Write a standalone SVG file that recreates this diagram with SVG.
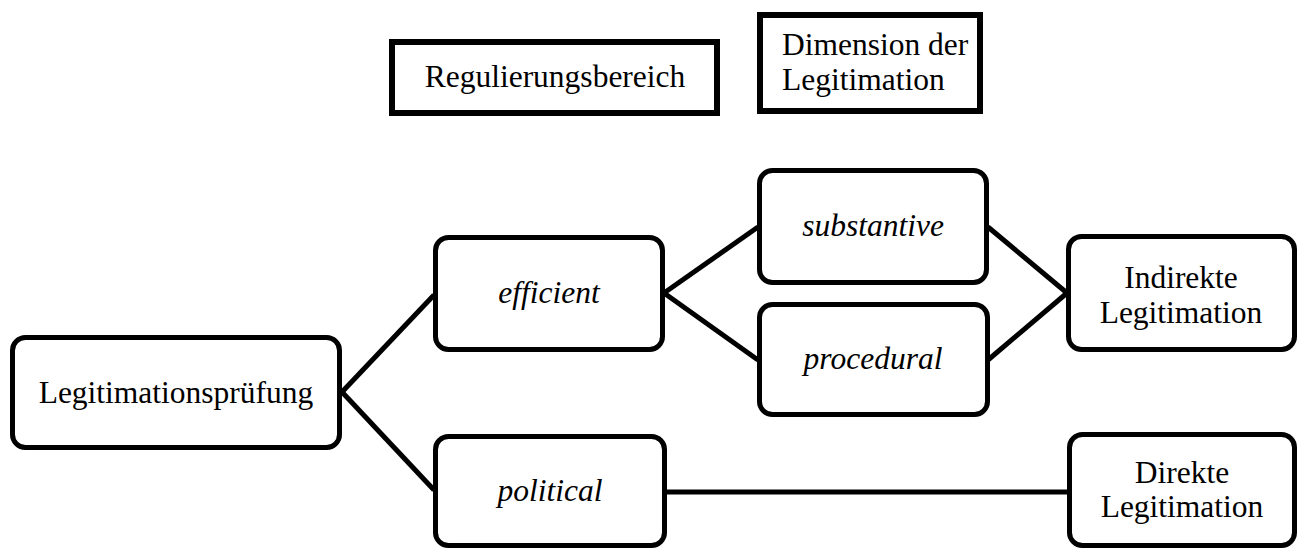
<svg xmlns="http://www.w3.org/2000/svg" width="1298" height="548" viewBox="0 0 1298 548">
<style>
.leg{fill:#fff;stroke:#000;stroke-width:6}
.node{fill:#fff;stroke:#000;stroke-width:5}
.t{font-family:"Liberation Serif","Times New Roman",serif;font-size:31.5px;fill:#000;text-anchor:middle}
.i{font-style:italic}
.l{text-anchor:start}
.c{stroke:#000;stroke-width:5;fill:none}
</style>
<rect width="1298" height="548" fill="#fff"/>
<g id="connectors">
<line class="c" x1="342" y1="392" x2="434" y2="295"/>
<line class="c" x1="342" y1="392" x2="434" y2="490"/>
<line class="c" x1="664" y1="293" x2="758" y2="227"/>
<line class="c" x1="664" y1="293" x2="758" y2="360"/>
<line class="c" x1="988" y1="227" x2="1067" y2="293"/>
<line class="c" x1="988" y1="360" x2="1067" y2="293"/>
<line class="c" x1="666" y1="492" x2="1068" y2="492"/>
</g>
<g id="legend-regulierungsbereich">
<rect class="leg" x="392" y="42" width="325" height="71"/>
<text class="t" x="555" y="87">Regulierungsbereich</text>
</g>
<g id="legend-dimension">
<rect class="leg" x="760" y="15" width="220" height="96"/>
<text class="t l" x="782" y="55">Dimension der</text>
<text class="t l" x="782" y="90">Legitimation</text>
</g>
<g id="node-legitimationspruefung">
<rect class="node" x="12.5" y="337.5" width="327" height="110" rx="13"/>
<text class="t" x="176" y="403">Legitimationsprüfung</text>
</g>
<g id="node-efficient">
<rect class="node" x="435.5" y="237.5" width="227" height="112" rx="13"/>
<text class="t i" x="549" y="303">efficient</text>
</g>
<g id="node-political">
<rect class="node" x="435.5" y="436.5" width="229" height="109" rx="13"/>
<text class="t i" x="550" y="501">political</text>
</g>
<g id="node-substantive">
<rect class="node" x="759.5" y="170.5" width="227" height="112" rx="13"/>
<text class="t i" x="873" y="236">substantive</text>
</g>
<g id="node-procedural">
<rect class="node" x="759.5" y="304.5" width="228" height="110" rx="13"/>
<text class="t i" x="873" y="369">procedural</text>
</g>
<g id="node-indirekte">
<rect class="node" x="1068.5" y="236.5" width="226" height="113" rx="13"/>
<text class="t" x="1181" y="288">Indirekte</text>
<text class="t" x="1181" y="323">Legitimation</text>
</g>
<g id="node-direkte">
<rect class="node" x="1069.5" y="434.5" width="225" height="111" rx="13"/>
<text class="t" x="1182" y="483">Direkte</text>
<text class="t" x="1182" y="517">Legitimation</text>
</g>
</svg>
